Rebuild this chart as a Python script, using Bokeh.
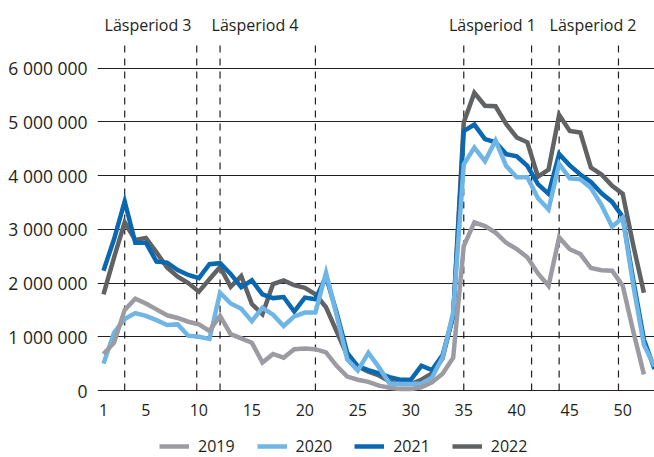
from bokeh.plotting import figure
from bokeh.models import FixedTicker, Legend, LegendItem, Range1d
from bokeh.core.properties import value
from bokeh.embed import file_html
from bokeh.resources import INLINE

# ---- data (values in millions) ----
weeks_2019 = list(range(1, 53))
vals_2019 = [0.68, 0.89, 1.50, 1.71, 1.62, 1.51, 1.40, 1.35, 1.28, 1.23,
             1.11, 1.39, 1.05, 0.97, 0.89, 0.52, 0.68, 0.61, 0.77, 0.78,
             0.77, 0.71, 0.46, 0.26, 0.20, 0.16, 0.09, 0.05, 0.03, 0.03,
             0.06, 0.15, 0.31, 0.61, 2.69, 3.13, 3.06, 2.94, 2.75, 2.63,
             2.48, 2.18, 1.95, 2.85, 2.63, 2.54, 2.28, 2.24, 2.23, 1.95,
             1.10, 0.30]

weeks_2020 = list(range(1, 54))
vals_2020 = [0.50, 1.08, 1.33, 1.44, 1.39, 1.31, 1.22, 1.23, 1.02, 1.00,
             0.96, 1.82, 1.62, 1.52, 1.29, 1.54, 1.41, 1.20, 1.38, 1.45,
             1.45, 2.19, 1.40, 0.58, 0.37, 0.70, 0.43, 0.13, 0.12, 0.12,
             0.13, 0.24, 0.62, 1.45, 4.21, 4.52, 4.27, 4.65, 4.18, 3.97,
             3.97, 3.58, 3.37, 4.22, 3.95, 3.93, 3.77, 3.45, 3.05, 3.22,
             1.95, 0.85, 0.45]

weeks_2021 = list(range(1, 54))
vals_2021 = [2.23, 2.82, 3.52, 2.75, 2.75, 2.40, 2.38, 2.24, 2.15, 2.09,
             2.35, 2.37, 2.17, 1.92, 2.05, 1.79, 1.72, 1.74, 1.47, 1.73,
             1.70, 2.12, 1.45, 0.70, 0.45, 0.38, 0.32, 0.25, 0.20, 0.20,
             0.46, 0.38, 0.66, 1.38, 4.83, 4.95, 4.68, 4.62, 4.40, 4.36,
             4.18, 3.84, 3.66, 4.40, 4.19, 4.02, 3.88, 3.67, 3.51, 3.23,
             2.05, 0.95, 0.40]

weeks_2022 = list(range(1, 53))
vals_2022 = [1.79, 2.48, 3.13, 2.80, 2.84, 2.57, 2.29, 2.12, 2.00, 1.84,
             2.07, 2.30, 1.93, 2.13, 1.61, 1.42, 1.98, 2.05, 1.96, 1.91,
             1.79, 1.55, 1.10, 0.65, 0.45, 0.35, 0.28, 0.17, 0.12, 0.12,
             0.20, 0.32, 0.60, 1.40, 4.99, 5.54, 5.30, 5.29, 4.96, 4.71,
             4.62, 3.98, 4.11, 5.13, 4.83, 4.80, 4.15, 4.02, 3.81, 3.66,
             2.70, 1.82]

series_names = ["2019", "2020", "2021", "2022"]
series_colors = ["#9c9ba2", "#6fb5e5", "#0a68b1", "#616264"]

x_ticks = [1, 5, 10, 15, 20, 25, 30, 35, 40, 45, 50]
y_ticks = [0, 1000000, 2000000, 3000000, 4000000, 5000000, 6000000]

period_bounds = [3, 9.8, 12, 21, 35, 41.4, 44, 49.6]
period_names = ["Läsperiod 3", "Läsperiod 4", "Läsperiod 1", "Läsperiod 2"]
period_label_x = [5.2, 15.3, 37.7, 47.2]
period_line_top = 6.42e6
period_label_y = 6.81e6

FONT = "Open Sans"
TXT = "#231f20"

# frame spans the whole height; the y=0 baseline sits 67 px above the bottom,
# leaving room below it (inside the frame) for tick labels and the legend
p = figure(frame_width=557, frame_height=449, output_backend="svg",
           toolbar_location=None,
           x_range=Range1d(0.434, 53), y_range=Range1d(-1.247e6, 7.11e6),
           min_border_left=97, min_border_right=0, min_border_top=8,
           min_border_bottom=0)
p.outline_line_color = None
p.background_fill_color = "white"
p.border_fill_color = "white"

p.xgrid.visible = False
p.ygrid.ticker = FixedTicker(ticks=y_ticks)
p.ygrid.grid_line_color = "#231f20"
p.ygrid.grid_line_width = 1

for ax in (p.xaxis[0], p.yaxis[0]):
    ax.axis_line_color = None
    ax.major_tick_line_color = None
    ax.minor_tick_line_color = None
    ax.major_label_text_font = FONT
    ax.major_label_text_color = TXT

p.xaxis.ticker = FixedTicker(ticks=x_ticks)
p.xaxis.fixed_location = 0
p.xaxis.major_label_standoff = 7
p.xaxis.major_label_text_font_size = "16px"
p.yaxis.ticker = FixedTicker(ticks=y_ticks)
p.yaxis.major_label_standoff = 4
p.yaxis.major_label_text_font_size = "17.5px"
p.yaxis.major_label_overrides = {v: f"{v:,}".replace(",", " ") for v in y_ticks}

# period dashed lines and labels
p.segment(x0=period_bounds, x1=period_bounds, y0=[0] * len(period_bounds),
          y1=[period_line_top] * len(period_bounds), line_color="#231f20",
          line_width=1.2, line_dash="7 6")
p.text(x=period_label_x, y=[period_label_y] * len(period_names), text=period_names,
       text_font=value(FONT), text_font_size="16px", text_color=TXT,
       text_align="center", text_baseline="middle")

data = {
    "2019": (weeks_2019, vals_2019),
    "2020": (weeks_2020, vals_2020),
    "2021": (weeks_2021, vals_2021),
    "2022": (weeks_2022, vals_2022),
}
colors = dict(zip(series_names, series_colors))
renderers = {}
for name in ["2022", "2021", "2020", "2019"]:
    wk, vals = data[name]
    renderers[name] = p.line(x=wk, y=[v * 1e6 for v in vals], line_color=colors[name],
                             line_width=4.5, line_join="miter")

items = [LegendItem(label=name, renderers=[renderers[name]]) for name in series_names]

legend = Legend(items=items, orientation="horizontal", location=(62, 0),
                glyph_width=30, glyph_height=16, label_standoff=9, spacing=22,
                padding=0, margin=0, border_line_color=None,
                background_fill_alpha=0, label_text_font=FONT,
                label_text_font_size="16px", label_text_color=TXT,
                label_height=16)
p.add_layout(legend)

open("out.html", "w").write(file_html(p, INLINE))
